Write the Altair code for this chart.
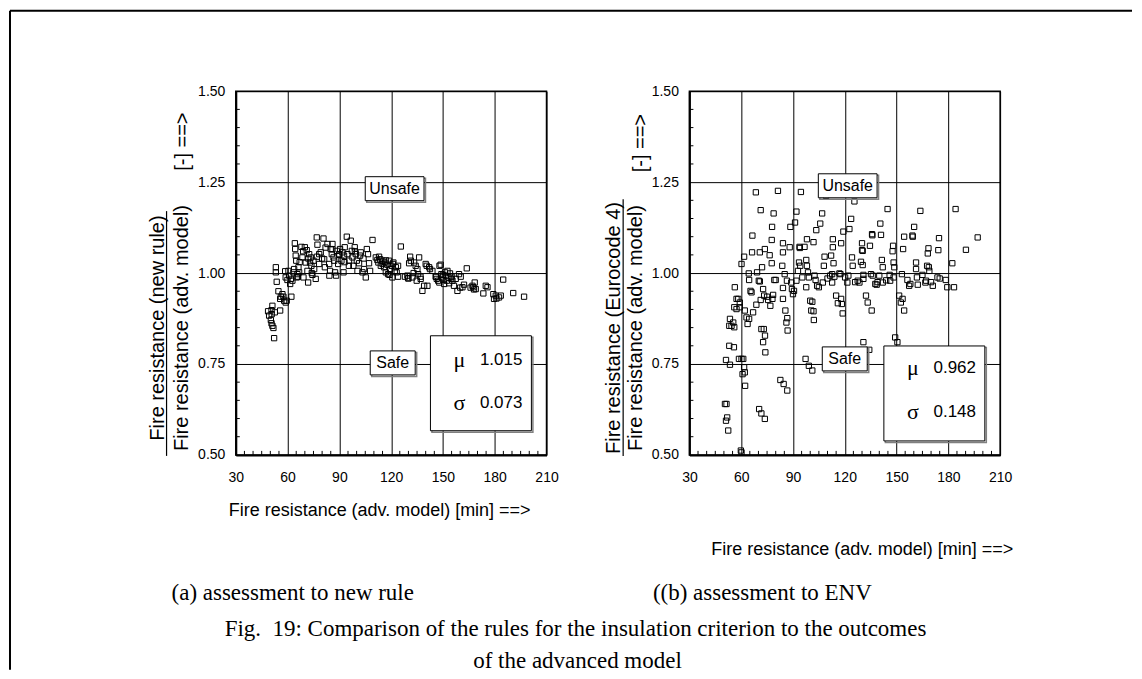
import altair as alt
import pandas as pd

# ---------------- data ----------------
new_x = [48.7, 49.3, 50.3, 50.7, 51.2, 51.8, 52.2, 50.8, 52.6, 50.7, 51.2,
         53.2, 53.2, 53.7, 54.7, 55.7, 56.1, 55.7, 57.0, 57.6, 58.0, 58.9, 59.5, 58.6, 58.9, 59.9,
         60.5, 60.9, 61.5, 61.9, 62.2, 62.8, 63.4, 63.8, 64.2, 64.7, 64.4, 65.0, 65.3, 65.7, 66.3,
         66.7, 68.0, 68.6, 69.2, 70.0, 70.5, 71.1, 71.5, 71.9, 72.5, 73.0, 73.4, 73.8, 74.4, 75.0,
         75.4, 76.3, 76.9, 77.3, 78.3, 79.2, 78.3, 80.8, 81.2, 81.6, 83.1, 84.1, 84.2, 84.6, 85.0,
         85.6, 86.0, 86.6, 87.0, 87.5, 88.1, 88.5, 89.3, 89.8, 90.4, 91.2, 91.8, 92.4, 92.7, 93.1,
         94.3, 94.7, 95.6, 96.6, 97.2, 97.6, 98.1, 98.9, 99.5, 100.1, 100.5, 101.4, 102.0, 102.4,
         103.4, 104.3, 105.3, 105.9, 106.6, 107.2, 107.8, 109.2, 111.1, 112.0, 112.6, 113.6, 114.0,
         114.9, 115.9, 116.5, 116.9, 117.8, 118.2, 118.8, 119.4, 120.2, 120.7, 121.3, 122.1, 122.7,
         123.2, 124.0, 125.6, 129.4, 129.8, 130.4, 131.0, 131.4, 132.3, 133.3, 134.2, 134.8, 135.2,
         135.6, 136.2, 137.1, 138.1, 139.1, 140.0, 140.6, 141.0, 142.0, 142.5, 143.9, 145.8, 146.4,
         147.2, 147.9, 148.7, 149.1, 149.7, 150.3, 150.7, 151.2, 151.6, 152.2, 152.6, 153.2, 153.6,
         154.1, 154.9, 155.5, 156.4, 157.4, 158.4, 159.3, 160.3, 161.3, 162.2, 163.8, 167.1, 167.6,
         168.4, 169.0, 173.4, 174.8, 175.8, 179.2, 179.6, 180.6, 182.5, 183.5, 184.9, 190.7, 197.0,
         66.0, 67.0, 69.0, 72.0, 74.0, 77.0, 80.0, 82.0, 86.0, 90.0, 93.0, 95.5, 99.0, 104.0, 113.0,
         115.0, 117.0, 119.0, 121.0, 124.0, 128.0, 130.0, 133.0, 137.0, 146.0, 148.0, 150.0, 155.0,
         160.0, 166.0, 168.0, 181.0]
new_y = [0.895, 0.883, 0.871, 0.862, 0.855, 0.849, 0.821, 0.887, 0.892, 0.898, 0.910,
         1.016, 1.002, 0.976, 0.950, 0.929, 0.935, 0.897, 0.942, 0.935, 0.924, 0.919, 0.924, 1.005, 0.988, 0.981,
         1.006, 0.993, 0.970, 0.984, 0.935, 0.979, 1.002, 1.011, 1.082, 1.048, 1.066, 1.034, 0.988, 0.997, 1.016,
         1.002, 1.072, 1.043, 0.988, 1.071, 1.029, 1.063, 1.006, 0.974, 1.052, 1.029, 1.043, 1.020, 0.995, 1.034,
         1.011, 0.984, 1.098, 1.078, 1.052, 1.057, 1.025, 1.095, 1.038, 1.016, 1.080, 1.025, 0.993, 1.006, 1.066,
         1.052, 1.080, 1.043, 1.034, 1.002, 0.993, 1.061, 1.025, 1.052, 1.066, 1.034, 1.057, 1.002, 1.048, 1.071,
         1.100, 1.052, 1.034, 1.089, 1.061, 1.043, 1.020, 1.071, 1.052, 1.034, 1.006, 1.027, 1.048, 1.057,
         1.002, 1.011, 0.988, 1.066, 1.052, 1.027, 1.006, 1.091, 1.043, 1.036, 1.029, 1.038, 1.020,
         1.034, 1.016, 1.029, 1.002, 1.023, 0.997, 1.034, 1.011, 1.020, 0.988, 1.029, 1.006, 1.016,
         1.002, 1.020, 1.073, 0.993, 0.986, 1.027, 1.045, 1.034, 0.988, 1.029, 1.020, 0.979, 1.011,
         0.997, 1.043, 0.984, 0.951, 0.965, 1.025, 1.020, 0.965, 1.016, 1.011, 1.006, 0.990, 0.984,
         0.979, 0.974, 1.023, 0.997, 0.988, 0.981, 0.970, 1.002, 0.993, 0.979, 1.006, 0.988, 0.972,
         0.999, 0.984, 0.979, 0.965, 0.984, 0.951, 0.997, 0.990, 0.961, 0.968, 1.013, 0.965, 0.961,
         0.974, 0.956, 0.944, 0.965, 0.961, 0.942, 0.929, 0.938, 0.933, 0.938, 0.982, 0.945, 0.935,
         0.990, 1.030, 1.060, 1.040, 1.000, 1.045, 1.040, 1.070, 1.065, 1.050, 1.030, 1.020, 1.060, 1.040, 1.045,
         1.025, 1.035, 0.995, 1.025, 0.990, 0.990, 0.985, 1.000, 0.990, 0.990, 1.020, 0.995, 0.990,
         0.960, 0.960, 0.955, 0.930]

env_x = [51.2, 53.5, 50.6, 51.5, 51.2, 51.9, 52.5, 53.1, 55.8, 53.1, 54.4, 55.4, 53.5, 56.0, 56.3,
         57.3, 58.3, 56.0, 57.3, 59.2, 59.2, 58.7, 60.2, 61.2, 60.8, 62.1, 61.7, 62.3, 59.8, 60.2,
         60.2, 61.7, 62.1, 63.1, 63.7, 64.6, 64.4, 64.6, 65.4, 66.0, 66.5, 66.3, 66.9, 68.5, 68.8,
         69.2, 70.2, 70.8, 70.8, 71.3, 71.3, 72.1, 71.7, 73.1, 72.7, 73.8, 74.0, 70.4, 71.7, 73.7,
         72.7, 73.7, 73.3, 75.0, 75.6, 76.5, 76.9, 78.1, 78.5, 77.7, 77.9, 77.7, 78.8, 79.2, 80.0,
         81.3, 82.7, 83.8, 84.2, 84.6, 86.7, 84.2, 84.2, 84.2, 85.2, 85.6, 86.2, 86.7, 86.9, 86.5,
         88.1, 88.5, 89.0, 89.4, 90.0, 90.6, 91.2, 92.0, 92.0, 92.9, 93.5, 93.8, 94.2, 94.6, 95.4,
         96.7, 97.7, 97.7, 98.1, 98.1, 98.7, 99.2, 97.3, 99.2, 101.2, 100.0, 100.6, 101.2, 101.9,
         102.1, 101.9, 102.5, 103.1, 103.5, 105.0, 105.8, 106.9, 107.3, 107.9, 108.3, 109.2, 111.5,
         112.1, 112.7, 112.7, 113.1, 113.1, 113.5, 115.0, 116.0, 116.9, 117.5, 117.9, 118.3, 117.9,
         118.8, 119.2, 120.2, 121.5, 122.1, 122.7, 123.7, 124.2, 124.6, 125.6, 127.5, 128.5, 129.4,
         130.0, 130.4, 130.4, 130.8, 130.8, 132.3, 133.3, 134.6, 135.2, 135.6, 135.8, 136.2, 137.7,
         138.5, 140.0, 140.6, 141.0, 141.5, 142.0, 142.0, 144.8, 146.3, 147.7, 148.0, 148.3, 148.7,
         148.3, 149.2, 151.5, 152.5, 153.5, 154.4, 153.1, 153.8, 154.4, 156.3, 157.3, 159.2, 160.2,
         161.3, 161.3, 161.8, 162.3, 163.8, 166.7, 167.1, 168.1, 168.5, 167.7, 168.7, 169.0, 173.7,
         174.2, 174.6, 178.5, 179.4, 182.3, 183.3, 184.2, 197.0, 190.2, 159.4, 136.0, 130.0, 94.0,
         104.0, 110.0, 114.0, 126.0, 139.0, 144.0, 146.0, 158.0, 165.0, 170.0, 175.0, 171.0,
         130.8, 134.2, 150.5]
env_y = [0.761, 0.748, 0.640, 0.640, 0.594, 0.603, 0.567, 0.800, 0.796, 0.855, 0.855, 0.864, 0.874, 0.851, 0.961,
         0.929, 0.929, 0.906, 0.901, 0.919, 0.906, 0.764, 0.764, 0.764, 0.722, 0.727, 0.741, 0.690, 0.512, 0.507,
         1.025, 1.045, 0.897, 0.878, 0.860, 0.874, 0.999, 0.981, 0.951, 0.947, 1.103, 1.057, 0.892, 1.222, 0.913,
         1.002, 0.979, 0.977, 1.057, 1.173, 0.926, 1.016, 0.846, 0.846, 0.810, 0.828, 0.782, 0.626, 0.614, 0.599,
         0.956, 1.066, 0.938, 0.935, 0.926, 1.049, 0.910, 0.929, 0.940, 1.027, 1.127, 1.091, 1.164, 0.981, 0.981,
         1.226, 0.706, 1.020, 1.082, 0.695, 0.677, 1.057, 0.959, 0.929, 0.997, 0.897, 0.864, 0.876, 0.842, 0.979,
         1.071, 1.127, 0.974, 0.956, 0.942, 0.951, 1.139, 1.169, 0.979, 1.006, 1.029, 1.072, 1.020, 1.223, 0.988,
         1.072, 1.036, 0.961, 1.093, 1.020, 1.002, 0.988, 0.764, 0.745, 0.732, 0.924, 0.897, 0.921, 0.895,
         0.871, 1.085, 0.993, 0.981, 1.118, 0.961, 1.136, 1.164, 0.974, 1.020, 1.045, 1.212, 0.993,
         1.048, 0.974, 0.997, 1.093, 1.071, 1.027, 0.938, 0.917, 0.999, 0.997, 0.929, 0.915, 1.082,
         0.889, 1.114, 0.988, 0.974, 0.993, 1.121, 1.149, 1.043, 1.020, 1.197, 0.979, 0.974, 1.031,
         1.082, 1.061, 1.022, 0.995, 0.984, 0.938, 0.919, 1.075, 0.997, 0.897, 1.107, 0.993, 0.970,
         0.968, 0.993, 1.136, 1.105, 1.036, 1.016, 0.974, 1.176, 0.979, 1.060, 1.075, 1.029, 1.016,
         0.988, 0.823, 0.938, 0.919, 0.929, 0.897, 0.997, 1.066, 1.100, 0.981, 0.965, 1.103, 1.127,
         1.029, 1.011, 0.988, 0.968, 1.171, 0.974, 0.979, 1.054, 1.068, 1.020, 1.016, 1.006, 0.988,
         1.063, 1.096, 0.981, 0.961, 1.027, 0.961, 1.176, 1.098, 1.064, 1.100, 1.104, 1.063, 1.069,
         0.965, 0.985, 0.990, 0.975, 0.975, 0.980, 0.995, 0.970, 0.995, 0.975, 0.985, 0.965,
         0.810, 0.789, 0.810]

x_tick_values = [30, 60, 90, 120, 150, 180, 210]
y_tick_values = [0.50, 0.75, 1.00, 1.25, 1.50]
x_minor_ticks = [35, 40, 45, 50, 55, 65, 70, 75, 80, 85, 95, 100, 105, 110, 115, 125, 130, 135, 140,
                 145, 155, 160, 165, 170, 175, 185, 190, 195, 200, 205]
y_minor_ticks = [0.55, 0.60, 0.65, 0.70, 0.80, 0.85, 0.90, 0.95, 1.05, 1.10, 1.15, 1.20, 1.30,
                 1.35, 1.40, 1.45]

zone_labels = ["Unsafe", "Safe"]
left_zone_x = [122.0, 120.9]
left_zone_y = [1.232, 0.753]
right_zone_x = [121.7, 120.0]
right_zone_y = [1.240, 0.764]

stat_symbols = ["\u03bc", "\u03c3"]
left_stat_values = ["1.015", "0.073"]
right_stat_values = ["0.962", "0.148"]
left_stat_y = [0.762, 0.642]
right_stat_y = [0.738, 0.618]
stat_symbol_x = [159.5, 159.5]
stat_value_x = [171.4, 171.4]
left_statbox = (172.0, 0.697)
right_statbox = (171.9, 0.669)

x_title = "Fire resistance (adv. model) [min] ==>"
y_title_den = "Fire resistance (adv. model)"
y_title_unit = "[-] ==>"
left_y_num = "Fire resistance (new rule)"
right_y_num = "Fire resistance (Eurocode 4)"
caption_a = "(a) assessment to new rule"
caption_b = "((b) assessment to ENV"
caption_1 = "Fig.\u00a0 19: Comparison of the rules for the insulation criterion to the outcomes"
caption_2 = "of the advanced model"

# ---------------- styling ----------------
W, H = 311, 364
SANS = "Liberation Sans"
SERIF = "Liberation Serif"
UNSAFE_BOX = "M-0.49,-0.2H0.49V0.2H-0.49Z"
SAFE_BOX = "M-0.375,-0.2H0.375V0.2H-0.375Z"
STAT_BOX = "M-0.842,-0.792H0.842V0.792H-0.842Z"
UNSAFE_SHADOW = "M-0.465,-0.175H0.515V0.225H-0.465Z"
SAFE_SHADOW = "M-0.35,-0.175H0.4V0.225H-0.35Z"
STAT_SHADOW = "M-0.817,-0.767H0.867V0.817H-0.817Z"
BOX_SIZE = 14400

xscale = alt.Scale(domain=[30, 210], nice=False, zero=False)
yscale = alt.Scale(domain=[0.5, 1.5], nice=False, zero=False)
x_axis = alt.Axis(values=x_tick_values, format="d", grid=True, gridColor="black", gridWidth=1,
                  gridOpacity=1, domainColor="black", domainWidth=2, ticks=False, tickSize=0,
                  labelFont=SANS, labelFontSize=14, labelColor="black", labelPadding=16,
                  labelFlush=False, labelOverlap=False, title=None)
y_axis = alt.Axis(values=y_tick_values, format=".2f", grid=True, gridColor="black", gridWidth=1,
                  gridOpacity=1, domainColor="black", domainWidth=2, ticks=False, tickSize=0,
                  labelFont=SANS, labelFontSize=14, labelColor="black", labelPadding=11,
                  labelFlush=False, labelOverlap=False, title=None)


def X(f="x"):
    return alt.X(f"{f}:Q", scale=xscale, axis=x_axis)


def Y(f="y"):
    return alt.Y(f"{f}:Q", scale=yscale, axis=y_axis)


def txt(label, px, py, **kw):
    return alt.Chart(pd.DataFrame({"t": [label]})).mark_text(**kw).encode(
        x=alt.value(px), y=alt.value(py), text="t:N")


def box(d, path, shadow):
    sh = alt.Chart(d).mark_point(shape=shadow, size=BOX_SIZE, filled=False, stroke="#808080",
                                 strokeWidth=1.5, opacity=1).encode(x=X(), y=Y())
    bx = alt.Chart(d).mark_point(shape=path, size=BOX_SIZE, filled=True, fill="white",
                                 stroke="black", strokeWidth=1, opacity=1).encode(x=X(), y=Y())
    return [sh, bx]


def panel(xs, ys, num_title, zone_x, zone_y, stat_vals, stat_y, statbox, ypos, xtitle_pos, extra=()):
    pts = alt.Chart(pd.DataFrame({"x": xs, "y": ys})).mark_point(
        shape="square", size=28, filled=False, stroke="black", strokeWidth=1, opacity=1
    ).encode(x=X(), y=Y())
    xt = alt.Chart(pd.DataFrame({"x": x_minor_ticks})).mark_rule(color="black", strokeWidth=1).encode(
        x=X(), y=alt.value(H), y2=alt.value(H - 4))
    yt = alt.Chart(pd.DataFrame({"y": y_minor_ticks})).mark_rule(color="black", strokeWidth=1).encode(
        y=Y(), x=alt.value(0), x2=alt.value(4))
    layers = [pts, xt, yt]
    for i, (path, shadow) in enumerate([(UNSAFE_BOX, UNSAFE_SHADOW), (SAFE_BOX, SAFE_SHADOW)]):
        d = pd.DataFrame({"x": [zone_x[i]], "y": [zone_y[i]], "label": [zone_labels[i]]})
        layers.extend(box(d, path, shadow))
        layers.append(alt.Chart(d).mark_text(font=SANS, fontSize=16, color="black").encode(
            x=X(), y=Y(), text="label:N"))
    sb = pd.DataFrame({"x": [statbox[0]], "y": [statbox[1]]})
    layers.extend(box(sb, STAT_BOX, STAT_SHADOW))
    sd = pd.DataFrame({"x": stat_symbol_x, "xv": stat_value_x, "y": stat_y,
                       "s": stat_symbols, "v": stat_vals})
    layers.append(alt.Chart(sd).mark_text(font=SERIF, fontSize=22, color="black").encode(
        x=X(), y=Y(), text="s:N"))
    layers.append(alt.Chart(sd).mark_text(font=SANS, fontSize=17, color="black", align="left").encode(
        x=X("xv"), y=Y(), text="v:N"))
    # y-axis title as a fraction
    n_x, d_x, line_x, unit_x, unit_y, line_y1 = ypos
    layers.append(txt(num_title, n_x, 237, font=SANS, fontSize=20, angle=270, align="center",
                      baseline="middle", color="black"))
    layers.append(txt(y_title_den, d_x, 237, font=SANS, fontSize=20, angle=270, align="center",
                      baseline="middle", color="black"))
    layers.append(txt(y_title_unit, unit_x, unit_y, font=SANS, fontSize=20, angle=270, align="center",
                      baseline="middle", color="black"))
    layers.append(alt.Chart(pd.DataFrame({"t": [0]})).mark_rule(color="black", strokeWidth=1.2).encode(
        x=alt.value(line_x), y=alt.value(line_y1), y2=alt.value(H + 1)))
    layers.append(txt(x_title, xtitle_pos[0], xtitle_pos[1], font=SANS, fontSize=18, align="center",
                      baseline="middle", color="black"))
    layers.extend(extra)
    return alt.layer(*layers).properties(width=W, height=H)


frame = [
    alt.Chart(pd.DataFrame({"t": [0]})).mark_rule(color="black", strokeWidth=2).encode(
        x=alt.value(-226), x2=alt.value(897), y=alt.value(-80.5)),
    alt.Chart(pd.DataFrame({"t": [0]})).mark_rule(color="black", strokeWidth=2).encode(
        x=alt.value(-226), y=alt.value(-80.5), y2=alt.value(579)),
]
cap_kw = dict(font=SERIF, fontSize=23, align="center", baseline="middle", color="black")
captions = [
    txt(caption_a, 57, 502, **cap_kw),
    txt(caption_b, 527, 502, **cap_kw),
    txt(caption_1, 340, 538, **cap_kw),
    txt(caption_2, 342, 570.5, **cap_kw),
]

left = panel(new_x, new_y, left_y_num, left_zone_x, left_zone_y, left_stat_values, left_stat_y,
             left_statbox, (-77.5, -53.5, -69.3, -53, 50.5, 120), (144, 420.5), extra=frame + captions)
right = panel(env_x, env_y, right_y_num, right_zone_x, right_zone_y, right_stat_values, right_stat_y,
              right_statbox, (-75.7, -53.2, -66.3, -48.5, 52, 108), (173, 459))

chart = alt.hconcat(left, right, spacing=143, bounds="flush").properties(
    padding=0, background="white"
).configure_view(stroke="black", strokeWidth=1.5)

chart.save("out.html", embed_options={"renderer": "svg", "actions": False})
